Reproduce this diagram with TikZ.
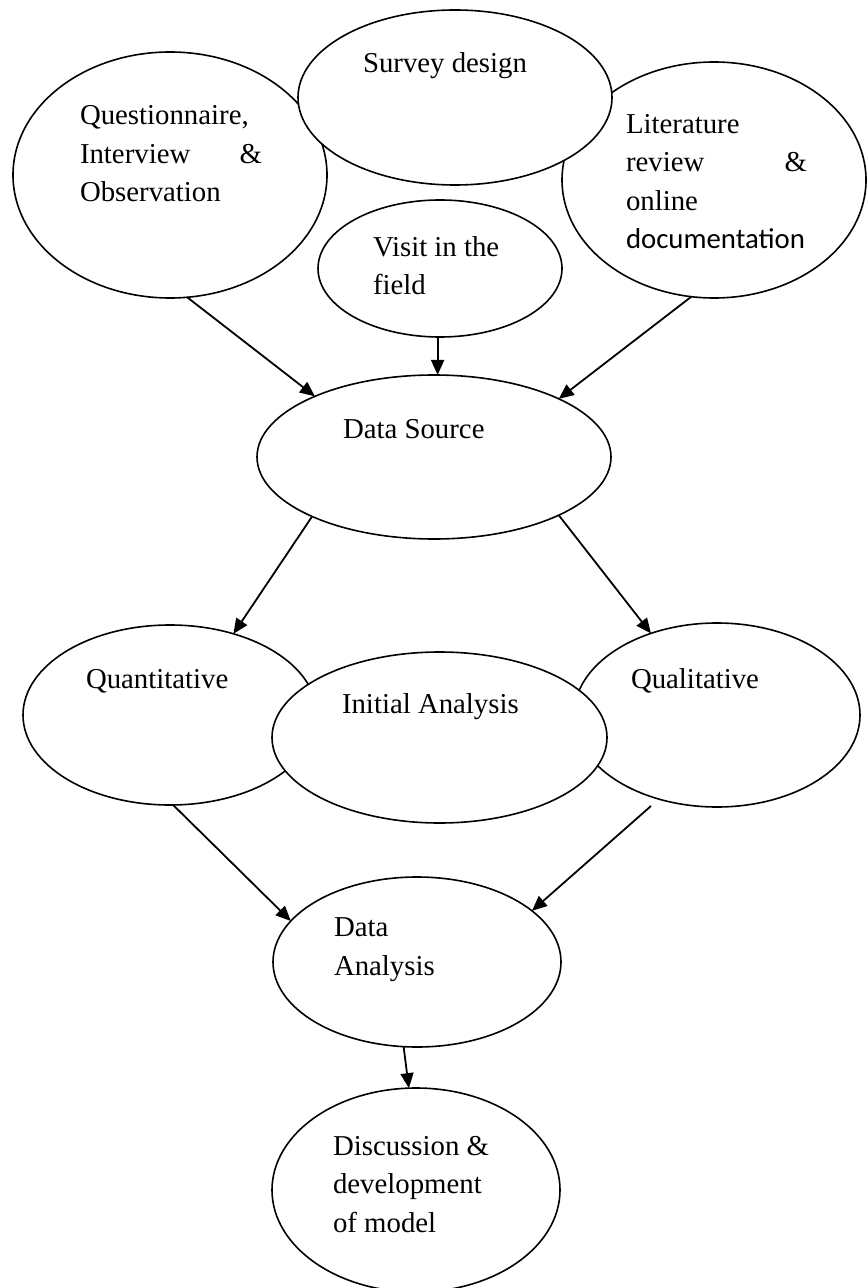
\documentclass[tikz,border=0pt]{standalone}
\usepackage{fontspec}
\setmainfont{Liberation Serif}
\newfontfamily\calib{Carlito}
\usetikzlibrary{shapes.geometric,arrows.meta}

\tikzset{
  bubble/.style={ellipse, draw, fill=white, line width=0.8pt, inner sep=0pt, outer sep=0pt},
  % multi-line labels sit on the baseline of their last line
  lbl/.style={anchor=base west, align=left, inner sep=0pt, outer sep=0pt,
              font=\fontsize{14.4pt}{19.25pt}\selectfont},
  flow/.style={-{Triangle[length=7.5pt,width=6.5pt]}, line width=0.9pt}
}

\begin{document}
\begin{tikzpicture}[x=0.5pt,y=-0.5pt]
% page frame (867 x 1288 px)
\path[use as bounding box, fill=white] (0,0) rectangle (867,1288);

% --- sources (survey design drawn last so it sits on top) ---
\node[bubble, minimum width=157pt, minimum height=123pt] (quest) at (170,175) {};
\node[bubble, minimum width=152pt, minimum height=118pt] (lit) at (714,180) {};
\node[bubble, minimum width=157pt, minimum height=87.5pt] (survey) at (455,97.5) {};
\node[bubble, minimum width=122pt, minimum height=68.5pt] (visit) at (440,268.5) {};

% --- data source ---
\node[bubble, minimum width=177pt, minimum height=82pt] (src) at (434,457) {};

% --- analysis row (initial analysis on top) ---
\node[bubble, minimum width=147pt, minimum height=90pt] (quant) at (170,715) {};
\node[bubble, minimum width=143pt, minimum height=92pt] (qual) at (717,715) {};
\node[bubble, minimum width=167.5pt, minimum height=85.5pt] (initial) at (439.5,737.5) {};

% --- results ---
\node[bubble, minimum width=144pt, minimum height=85pt] (dana) at (417,962) {};
\node[bubble, minimum width=144pt, minimum height=102pt] (disc) at (416,1190) {};

% --- labels ---
\node[lbl] (t-survey) at (363,73) {Survey design};
\node[lbl] (t-quest) at (80,202) {Questionnaire,\\\hbox to 91pt{Interview\hfill\&}\\Observation};
\node[lbl] (t-lit) at (626,249) {Literature\\\hbox to 90.5pt{review\hfill\&}\\online\\{\calib documentation}};
\node[lbl] (t-visit) at (373,295) {Visit in the\\field};
\node[lbl] (t-src) at (343,438) {Data Source};
\node[lbl] (t-quant) at (86,688) {Quantitative};
\node[lbl] (t-initial) at (342,713) {Initial Analysis};
\node[lbl] (t-qual) at (631,688) {Qualitative};
\node[lbl] (t-dana) at (334,975) {Data\\Analysis};
\node[lbl] (t-disc) at (333,1232) {Discussion \&\\development\\of model};

% --- connectors ---
\coordinate (qual-out) at (651,806);

\draw[flow] (quest.-82) -- (src.153.6);
\draw[flow] (visit.-92.5) -- (visit.-92.5 |- src.north);
\draw[flow] (lit.259.8) -- (src.25.4);
\draw[flow] (src.206.6) -- (quant.52.5);
\draw[flow] (src.-25.6) -- (qual.129.3);
\draw[flow] (quant.-88) -- (dana.162);
\draw[flow] (qual-out) -- (dana.24.4);
\draw[flow] (dana.261.3) -- (disc.94.5);
\end{tikzpicture}
\end{document}
